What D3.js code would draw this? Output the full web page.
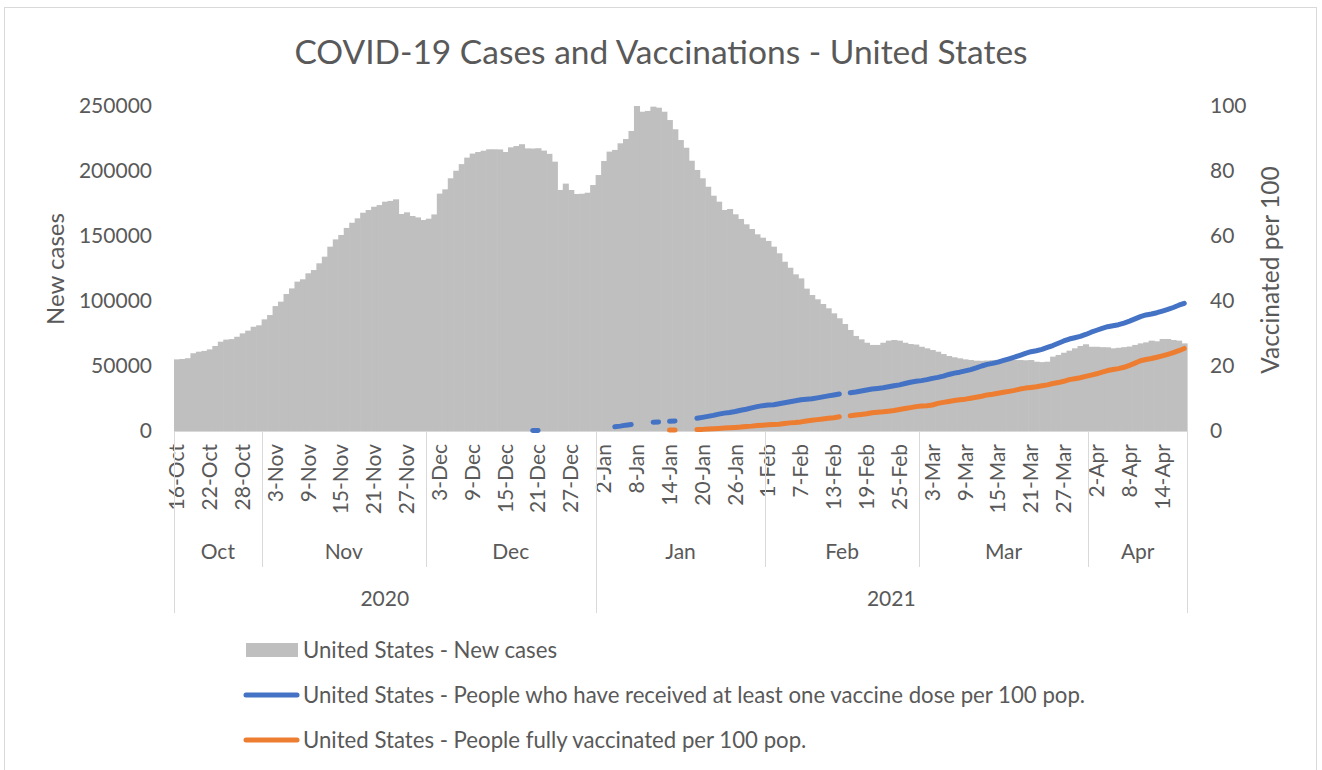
<!DOCTYPE html>
<html>
<head>
<meta charset="utf-8">
<script src="https://cdnjs.cloudflare.com/ajax/libs/d3/7.8.5/d3.min.js"></script>
<style>
  body { margin: 0; background: #fff; }
  svg text { font-family: Lato, "Open Sans", sans-serif; fill: #595959; }
</style>
</head>
<body>
<svg id="chart" width="1322" height="770"></svg>
<script>
// daily categories start here (one bar per day)
const startDate = new Date(2020, 9, 16);

// United States - New cases, 16-Oct-2020 .. 18-Apr-2021
const newCases = [
  // Oct
  55100, 55400, 56000, 59800, 61000, 61600, 62800, 65400, 68700, 70300, 70700, 72500, 75100, 77200, 80200, 81300,
  // Nov
  85900, 89200, 96100, 99500, 105400, 109700, 114900, 116700, 121300, 123800, 129000, 134100, 141800, 147400, 150800,
  156200, 160200, 163600, 167900, 170000, 172500, 173800, 176400, 177000, 178200, 166900, 168200, 165400, 164300, 162300,
  // Dec
  163300, 166600, 182600, 185900, 194400, 200200, 205300, 210300, 213400, 214600, 215600, 216700, 216700, 216600, 214600,
  218200, 219200, 220600, 217400, 217300, 217500, 215700, 213200, 207200, 185400, 190300, 185400, 182300, 182500, 183300, 189200,
  // Jan
  196900, 207700, 214900, 216200, 221300, 224600, 230800, 250000, 245600, 246200, 249500, 248700, 245600, 239200, 232100,
  223800, 217900, 207900, 200800, 194400, 187900, 181000, 176400, 170000, 170800, 166700, 163100, 159000, 155400, 151300, 148700,
  // Feb
  146200, 141800, 136700, 130200, 125600, 120500, 117400, 109500, 104600, 101300, 97700, 94400, 90500, 86700,
  82300, 77700, 73100, 70500, 67900, 66200, 66200, 67900, 69500, 70000, 69500, 67900, 66900, 66500,
  // Mar
  64800, 63600, 62300, 61000, 59200, 57700, 56700, 55900, 55100, 54600, 54100, 54000, 54200, 54500, 54800,
  55000, 54600, 54600, 54600, 54400, 54600, 53300, 53000, 53300, 57200, 58500, 60200, 61800, 63600, 65400, 66700,
  // Apr
  64800, 64800, 64500, 64400, 63600, 64000, 64500, 65000, 66200, 67400, 68200, 69500, 69000, 70800, 70800, 70000, 69500, 67400
];

// vaccination series start on 20-Dec-2020, null = no data that day
const vaxStart = new Date(2020, 11, 20);

const atLeastOneDose = [
  0.17, 0.18, null, null, null, null, null, null, null, null, null, null, null, null, null,
  1.3, 1.5, 1.8, 2.0, null, null, null, 2.7, 2.8, null, 3.0, 3.1, null, null, null,
  3.9, 4.2, 4.5, 4.8, 5.2, 5.5, 5.7, 6.0, 6.4, 6.7, 7.1, 7.5, 7.8,
  8.0, 8.1, 8.4, 8.7, 9.0, 9.3, 9.6, 9.8, 9.9, 10.2, 10.5, 10.8, 11.1, 11.4, null,
  11.8, 12.0, 12.3, 12.6, 12.9, 13.1, 13.3, 13.6, 13.9, 14.2, 14.6, 15.0, 15.3,
  15.5, 15.8, 16.2, 16.5, 16.9, 17.4, 17.8, 18.1, 18.5, 18.9, 19.4, 20.0, 20.5, 20.8, 21.2, 21.7,
  22.2, 22.7, 23.3, 23.9, 24.4, 24.7, 25.1, 25.7, 26.3, 27.0, 27.7, 28.3, 28.7, 29.1, 29.7,
  30.4, 31.0, 31.6, 32.1, 32.4, 32.7, 33.2, 33.8, 34.5, 35.2, 35.7, 36.0, 36.4, 36.9, 37.4, 38.0, 38.7, 39.3
];

const fullyVaccinated = [
  null, null, null, null, null, null, null, null, null, null, null, null, null, null, null,
  null, null, null, null, null, null, null, null, null, null, 0.3, 0.3, null, null, null,
  0.5, 0.5, 0.6, 0.7, 0.8, 0.9, 1.0, 1.1, 1.2, 1.4, 1.5, 1.7, 1.8,
  1.9, 2.0, 2.1, 2.3, 2.5, 2.6, 2.8, 3.1, 3.3, 3.5, 3.7, 3.9, 4.1, 4.4, null,
  4.7, 4.9, 5.1, 5.3, 5.6, 5.8, 5.9, 6.1, 6.3, 6.6, 6.9, 7.2, 7.5,
  7.7, 7.8, 8.0, 8.5, 8.8, 9.1, 9.4, 9.6, 9.8, 10.1, 10.4, 10.7, 11.1, 11.3, 11.6, 11.9,
  12.2, 12.5, 12.9, 13.2, 13.4, 13.6, 13.9, 14.2, 14.6, 14.9, 15.3, 15.8, 16.1, 16.4, 16.8,
  17.2, 17.6, 18.1, 18.6, 18.9, 19.2, 19.6, 20.2, 20.9, 21.6, 22.0, 22.3, 22.7, 23.1, 23.6, 24.1, 24.7, 25.4
];

const leftTicks = [0, 50000, 100000, 150000, 200000, 250000];
const rightTicks = [0, 20, 40, 60, 80, 100];

const legendItems = [
  { label: 'United States - New cases', color: '#bfbfbf', type: 'bar' },
  { label: 'United States - People who have received at least one vaccine dose per 100 pop.', color: '#4472c4', type: 'line' },
  { label: 'United States - People fully vaccinated per 100 pop.', color: '#ed7d31', type: 'line' }
];

document.addEventListener('DOMContentLoaded', function() {
  drawChart();
});

function drawChart() {
  const svg = d3.select('#chart');
  const plot = { left: 174, right: 1187, top: 106, bottom: 431 };
  const axisColor = '#d9d9d9';

  // outer chart border
  svg.append('rect')
    .attr('x', 4.5).attr('y', 7.5)
    .attr('width', 1312).attr('height', 775)
    .attr('fill', '#fff')
    .attr('stroke', '#d9d9d9');

  // title
  svg.append('text')
    .attr('x', 661).attr('y', 64)
    .attr('text-anchor', 'middle')
    .style('font-size', '33.5px')
    .text('COVID-19 Cases and Vaccinations - United States');

  const days = newCases.map((v, i) => ({ i: i, date: d3.timeDay.offset(startDate, i), value: v }));

  const x = d3.scaleBand()
    .domain(days.map(d => d.i))
    .range([plot.left, plot.right])
    .padding(0);

  const yLeft = d3.scaleLinear().domain([0, 250000]).range([plot.bottom, plot.top]);
  const yRight = d3.scaleLinear().domain([0, 100]).range([plot.bottom, plot.top]);

  // bars (gap width 0, small overlap to avoid seams)
  svg.append('g')
    .selectAll('rect')
    .data(days)
    .enter()
    .append('rect')
    .attr('x', d => x(d.i))
    .attr('y', d => yLeft(d.value))
    .attr('width', x.bandwidth() + 0.6)
    .attr('height', d => yLeft(0) - yLeft(d.value))
    .attr('fill', '#bfbfbf');

  // left axis labels
  svg.append('g')
    .selectAll('text')
    .data(leftTicks)
    .enter()
    .append('text')
    .attr('x', 152)
    .attr('y', d => yLeft(d))
    .attr('dy', '0.35em')
    .attr('text-anchor', 'end')
    .style('font-size', '21px')
    .text(d => d);

  // right axis labels
  svg.append('g')
    .selectAll('text')
    .data(rightTicks)
    .enter()
    .append('text')
    .attr('x', 1210)
    .attr('y', d => yRight(d))
    .attr('dy', '0.35em')
    .style('font-size', '21px')
    .text(d => d);

  // axis titles
  svg.append('text')
    .attr('transform', 'translate(64, 269) rotate(-90)')
    .attr('text-anchor', 'middle')
    .style('font-size', '24px')
    .text('New cases');

  svg.append('text')
    .attr('transform', 'translate(1279, 270) rotate(-90)')
    .attr('text-anchor', 'middle')
    .style('font-size', '24.5px')
    .text('Vaccinated per 100');

  // category axis baseline
  svg.append('line')
    .attr('x1', plot.left).attr('x2', plot.right)
    .attr('y1', plot.bottom + 0.5).attr('y2', plot.bottom + 0.5)
    .attr('stroke', axisColor);

  // day labels every 6 days
  const fmtDay = d3.timeFormat('%-d-%b');
  svg.append('g')
    .selectAll('text')
    .data(days.filter(d => d.i % 6 === 0))
    .enter()
    .append('text')
    .attr('transform', d => `translate(${x(d.i) + x.bandwidth() / 2}, 444) rotate(-90)`)
    .attr('dy', '0.35em')
    .attr('text-anchor', 'end')
    .style('font-size', '21px')
    .text(d => fmtDay(d.date));

  // month groups
  const months = d3.groups(days, d => d3.timeFormat('%Y-%m')(d.date)).map(g => ({
    label: d3.timeFormat('%b')(g[1][0].date),
    first: g[1][0].i,
    last: g[1][g[1].length - 1].i
  }));

  const years = d3.groups(days, d => d.date.getFullYear()).map(g => ({
    label: g[0],
    first: g[1][0].i,
    last: g[1][g[1].length - 1].i
  }));

  // month separators
  svg.append('g')
    .selectAll('line')
    .data(months.slice(1))
    .enter()
    .append('line')
    .attr('x1', d => Math.round(x(d.first)) + 0.5)
    .attr('x2', d => Math.round(x(d.first)) + 0.5)
    .attr('y1', plot.bottom).attr('y2', 567)
    .attr('stroke', axisColor);

  svg.append('g')
    .selectAll('text')
    .data(months)
    .enter()
    .append('text')
    .attr('x', d => (x(d.first) + x(d.last) + x.bandwidth()) / 2)
    .attr('y', 552)
    .attr('dy', '0.35em')
    .attr('text-anchor', 'middle')
    .style('font-size', '21px')
    .text(d => d.label);

  // year separators (outer edges + year boundary)
  const yearEdges = years.map(d => x(d.first)).concat([plot.right]);
  svg.append('g')
    .selectAll('line')
    .data(yearEdges)
    .enter()
    .append('line')
    .attr('x1', d => Math.round(d) + 0.5)
    .attr('x2', d => Math.round(d) + 0.5)
    .attr('y1', plot.bottom).attr('y2', 613)
    .attr('stroke', axisColor);

  svg.append('g')
    .selectAll('text')
    .data(years)
    .enter()
    .append('text')
    .attr('x', d => (x(d.first) + x(d.last) + x.bandwidth()) / 2)
    .attr('y', 599)
    .attr('dy', '0.35em')
    .attr('text-anchor', 'middle')
    .style('font-size', '21px')
    .text(d => d.label);

  // vaccination lines
  const offset = d3.timeDay.count(startDate, vaxStart);
  const toPoints = arr => arr.map((v, j) => ({ i: j + offset, value: v }));

  const vaxLine = d3.line()
    .defined(d => d.value !== null)
    .x(d => x(d.i) + x.bandwidth() / 2)
    .y(d => yRight(d.value));

  [[atLeastOneDose, '#4472c4'], [fullyVaccinated, '#ed7d31']].forEach(s => {
    svg.append('path')
      .datum(toPoints(s[0]))
      .attr('d', vaxLine)
      .attr('fill', 'none')
      .attr('stroke', s[1])
      .attr('stroke-width', 5)
      .attr('stroke-linecap', 'round')
      .attr('stroke-linejoin', 'round');
  });

  // legend
  const legend = svg.append('g')
    .selectAll('g')
    .data(legendItems)
    .enter()
    .append('g')
    .attr('transform', (d, i) => `translate(0, ${650 + i * 45})`);

  legend.filter(d => d.type === 'bar')
    .append('rect')
    .attr('x', 246).attr('y', -7)
    .attr('width', 52).attr('height', 14)
    .attr('fill', d => d.color);

  legend.filter(d => d.type === 'line')
    .append('line')
    .attr('x1', 246).attr('x2', 297)
    .attr('y1', 0).attr('y2', 0)
    .attr('stroke', d => d.color)
    .attr('stroke-width', 5)
    .attr('stroke-linecap', 'round');

  legend.append('text')
    .attr('x', 303)
    .attr('y', 0)
    .attr('dy', '0.35em')
    .style('font-size', '22.2px')
    .text(d => d.label);
}
</script>
</body>
</html>
